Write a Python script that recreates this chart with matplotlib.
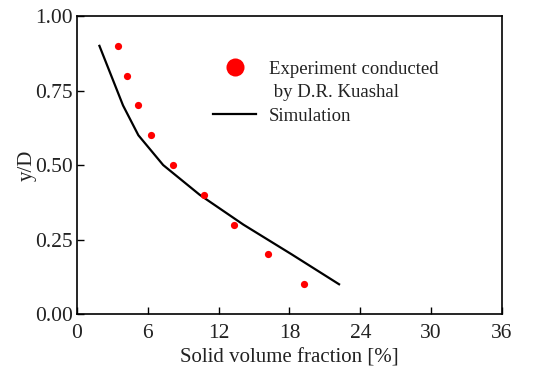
import matplotlib
matplotlib.use("Agg")
import matplotlib.pyplot as plt
from matplotlib.lines import Line2D

plt.rcParams["font.family"] = ["Liberation Serif", "DejaVu Serif"]
plt.rcParams["mathtext.fontset"] = "stix"

# experiment (D.R. Kaushal)
exp_x = [3.5, 4.2, 5.2, 6.3, 8.1, 10.8, 13.3, 16.2, 19.2]
exp_y = [0.9, 0.8, 0.7, 0.6, 0.5, 0.4, 0.3, 0.2, 0.1]

# simulation
sim_x = [1.9, 3.9, 5.2, 7.3, 10.4, 14.1, 18.2, 22.2]
sim_y = [0.9, 0.7, 0.6, 0.5, 0.4, 0.3, 0.2, 0.1]

x_ticks = [0, 6, 12, 18, 24, 30, 36]
y_ticks = [0.0, 0.25, 0.5, 0.75, 1.0]

fig = plt.figure(figsize=(5.48, 3.73), dpi=100)
ax = fig.add_axes([0.1405, 0.158, 0.7755, 0.799])

ax.plot(sim_x, sim_y, "-", color="black", lw=1.6)
ax.plot(exp_x, exp_y, "o", color="red", ms=5.2, mec="none")

ax.set_xlim(0, 36)
ax.set_ylim(0, 1.0)
ax.set_xticks(x_ticks)
ax.set_yticks(y_ticks)
ax.set_yticklabels([f"{v:.2f}" for v in y_ticks])
ax.tick_params(direction="in", length=5, width=1, labelsize=15.5,
               labelcolor="#222222")
ax.tick_params(axis="x", pad=7)
ax.tick_params(axis="y", pad=3)
for s in ax.spines.values():
    s.set_linewidth(1.2)

ax.set_xlabel("Solid volume fraction [%]", fontsize=15, labelpad=4,
              color="#222222")
ax.set_ylabel("y/D", fontsize=15, labelpad=-1, color="#222222")

# marker sits on the first text line, so the wrapped label is split in two rows
handles = [
    Line2D([], [], ls="none", marker="o", color="red", ms=13, mec="none"),
    Line2D([], [], ls="none"),
    Line2D([], [], ls="-", color="black", lw=1.6),
]
labels = ["Experiment conducted", " by D.R. Kuashal", "Simulation"]
leg = ax.legend(handles, labels, loc="upper left", bbox_to_anchor=(0.303, 0.875),
                frameon=False, fontsize=13.5, handlelength=2.3,
                handletextpad=0.65, labelspacing=0.34, borderaxespad=0)
for t in leg.get_texts():
    t.set_color("#222222")

fig.savefig("out.png", dpi=100)
